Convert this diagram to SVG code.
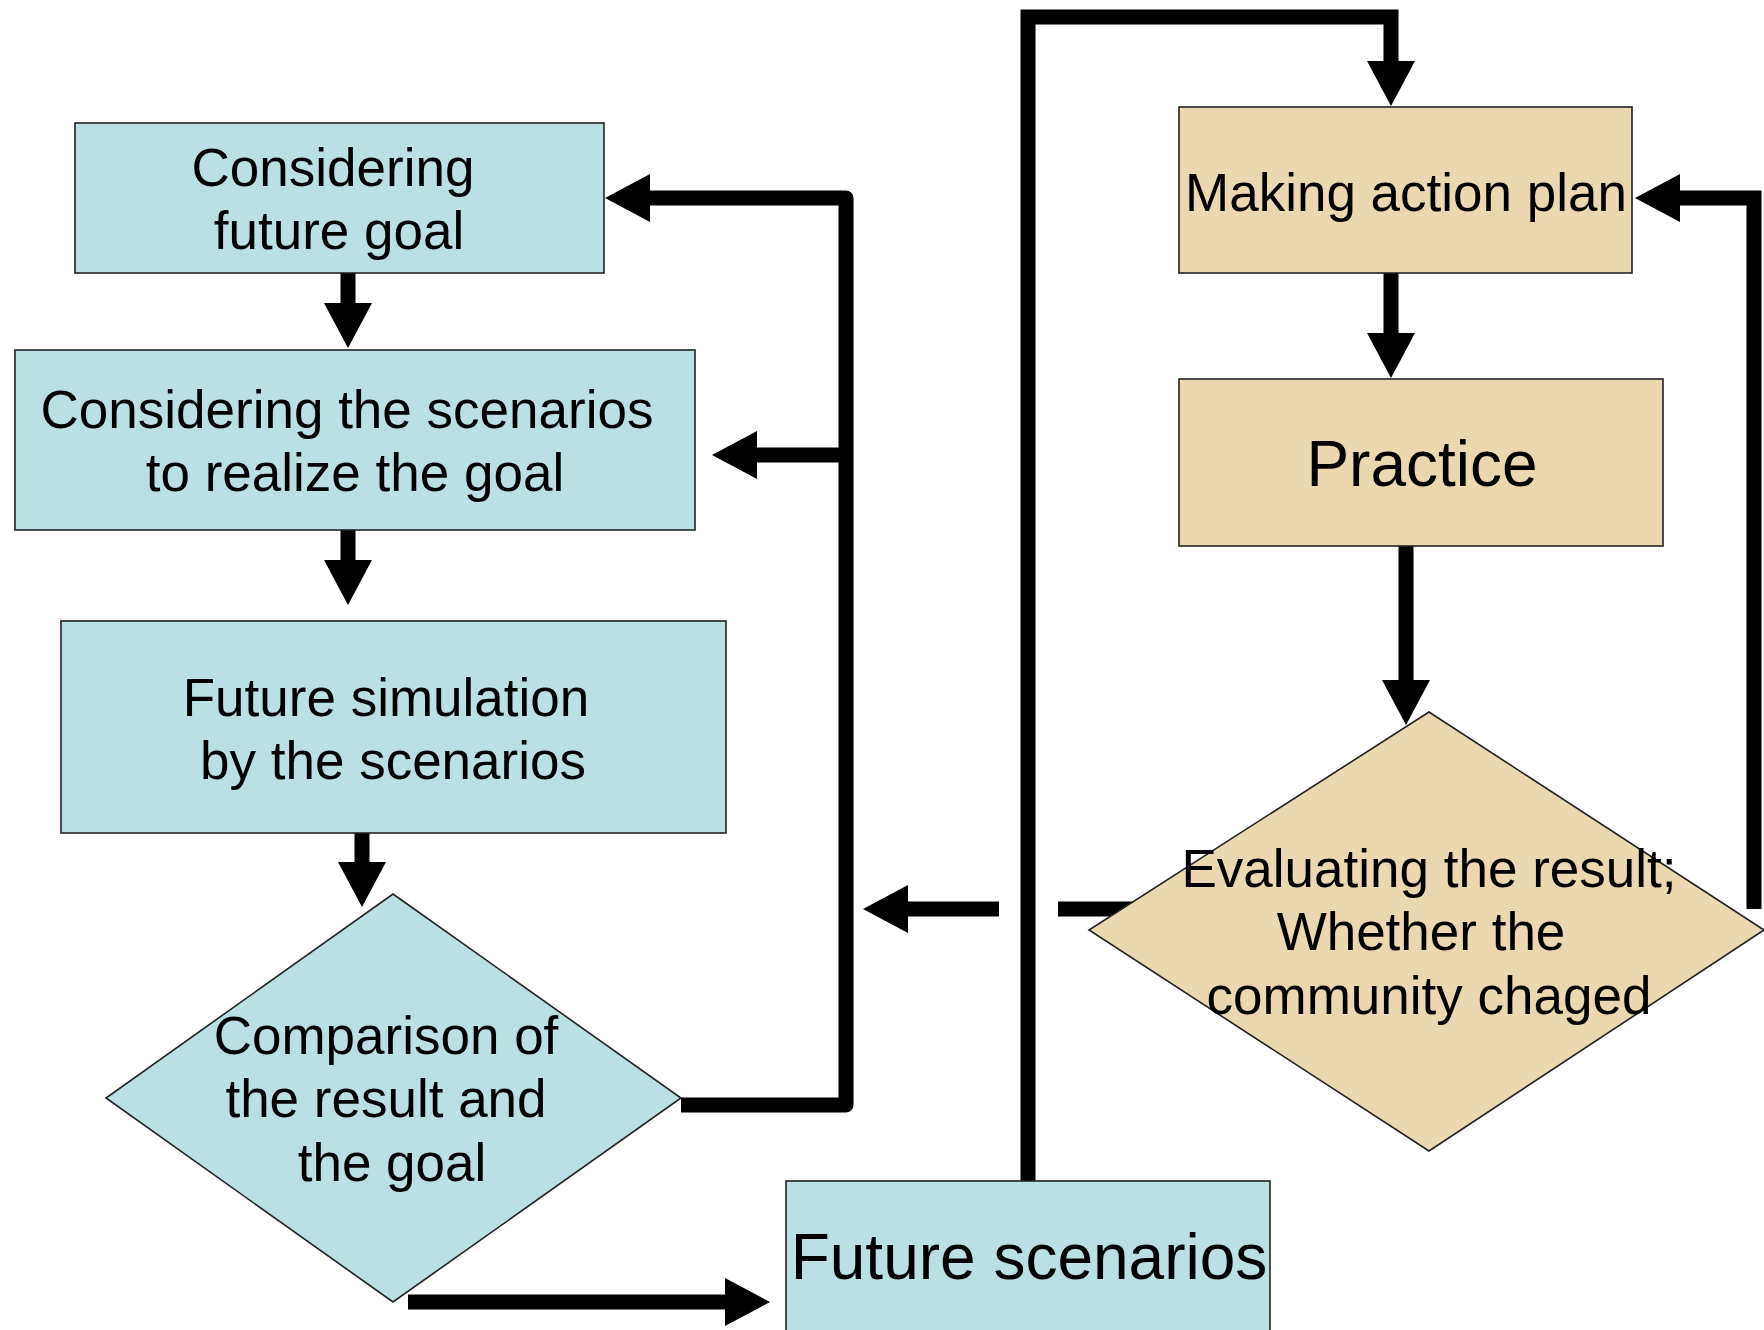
<svg xmlns="http://www.w3.org/2000/svg" width="1764" height="1330" viewBox="0 0 1764 1330">
<style>
.blue{fill:#BAE0E3;stroke:#222;stroke-width:1.6}
.tan{fill:#EBD8B1;stroke:#222;stroke-width:1.6}
.t{font-family:"Liberation Sans",Arial,sans-serif;font-size:53px;fill:#000;text-anchor:middle}
.big{font-size:64px}
.c{fill:none;stroke:#000;stroke-width:15;marker-end:url(#ah)}
.n{fill:none;stroke:#000;stroke-width:15}
</style>
<defs>
<marker id="ah" markerUnits="userSpaceOnUse" markerWidth="46" markerHeight="48" refX="0" refY="24" orient="auto" overflow="visible">
<path d="M0,0 L45,24 L0,48 Z" fill="#000"/>
</marker>
</defs>
<rect width="1764" height="1330" fill="#fff"/>
<g id="connectors">
<path class="c" d="M348,273 V303"/>
<path class="c" d="M348,530 V560"/>
<path class="c" d="M362,833 V862"/>
<path class="c" stroke-linejoin="round" d="M681,1105 H846 V198 H650"/>
<path class="c" d="M846,455 H757"/>
<path class="c" d="M408,1302 H725"/>
<path class="c" d="M1028,1181 V17 H1391 V61"/>
<path class="c" d="M1391,273 V333"/>
<path class="c" d="M1406,546 V680"/>
<path class="c" d="M1754,909 V198 H1680"/>
<path class="n" d="M1134,909 H1058"/>
<path class="c" d="M999,909 H908"/>
</g>
<g id="n1"><rect class="blue" x="75" y="123" width="529" height="150"/>
<text class="t" x="333" y="186">Considering</text><text class="t" x="339" y="249">future goal</text></g>
<g id="n2"><rect class="blue" x="15" y="350" width="680" height="180"/>
<text class="t" x="347" y="428">Considering the scenarios</text><text class="t" x="355" y="491">to realize the goal</text></g>
<g id="n3"><rect class="blue" x="61" y="621" width="665" height="212"/>
<text class="t" x="386" y="716">Future simulation</text><text class="t" x="393" y="779">by the scenarios</text></g>
<g id="n4"><polygon class="blue" points="393,894 681,1098 393,1302 106,1098"/>
<text class="t" x="386" y="1054">Comparison of</text><text class="t" x="386" y="1117">the result and</text><text class="t" x="392" y="1181">the goal</text></g>
<g id="n5"><rect class="blue" x="786" y="1181" width="484" height="160"/>
<text class="t big" x="1029" y="1279">Future scenarios</text></g>
<g id="n6"><rect class="tan" x="1179" y="107" width="453" height="166"/>
<text class="t" x="1406" y="211">Making action plan</text></g>
<g id="n7"><rect class="tan" x="1179" y="379" width="484" height="167"/>
<text class="t big" x="1422" y="486">Practice</text></g>
<g id="n8"><polygon class="tan" points="1429,712 1764,930 1429,1151 1089,930"/>
<text class="t" x="1429" y="887">Evaluating the result;</text><text class="t" x="1421" y="950">Whether the</text><text class="t" x="1429" y="1014">community chaged</text></g>
</svg>
